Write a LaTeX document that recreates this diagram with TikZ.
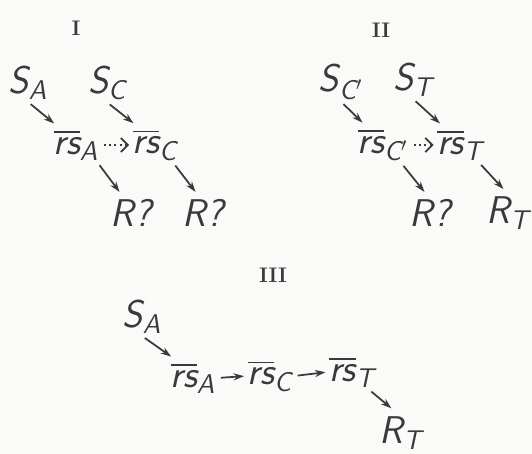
\documentclass[tikz,border=0pt]{standalone}
\usepackage{amsmath}
\usepackage{tikz}
\usetikzlibrary{arrows.meta}
\definecolor{inkgray}{HTML}{3A3A3A}
\definecolor{paper}{HTML}{FAFAF8}

\newcommand{\rsym}[1]{$\overline{\text{rs}}_{\text{#1}}$}
\newcommand{\ssym}[1]{$\text{S}_{\text{#1}}$}

\tikzset{
  sym/.style={font=\sffamily\slshape\fontsize{22}{26}\selectfont, text=inkgray, inner sep=1pt},
  numeral/.style={font=\bfseries\large, text=inkgray},
  link/.style={draw=inkgray, line width=1pt, -{Stealth[length=6pt, width=4pt]},
               shorten <=2pt, shorten >=1pt},
  guess/.style={link, dotted, -{Straight Barb[length=4pt]}}
}

\begin{document}
\begin{tikzpicture}[x=0.02cm, y=-0.02cm]
    \fill[paper] (0,0) rectangle (532,454);
    \useasboundingbox (0,0) rectangle (532,454);

    % I
    \node[numeral] (num1) at (76,28) {I};
    \node[sym] (sa1) at (28,83) {\ssym{A}};
    \node[sym] (sc1) at (107,83) {\ssym{C}};
    \node[sym] (rsa1) at (76,145) {\rsym{A}};
    \node[sym] (rsc1) at (155,145) {\rsym{C}};
    \node[sym] (ra1) at (131,213) {R?};
    \node[sym] (rc1) at (203,213) {R?};
    \draw[link] (sa1.south) -- ([shift={(4,-3)}]rsa1.north west);
    \draw[link] (sc1.south) -- ([shift={(4,-3)}]rsc1.north west);
    \draw[guess] (rsa1.east) -- (rsc1.west);
    \draw[link] ([shift={(-3,0)}]rsa1.south east) -- ([shift={(12,-4)}]ra1.north west);
    \draw[link] ([shift={(-6,0)}]rsc1.south east) -- ([shift={(16,-4)}]rc1.north west);

    % II
    \node[numeral] (num2) at (381,30) {II};
    \node[sym] (sc2) at (341,82) {\ssym{C$'$}};
    \node[sym] (st2) at (413,80) {\ssym{T}};
    \node[sym] (rsc2) at (383,145) {\rsym{C$'$}};
    \node[sym] (rst2) at (460,145) {\rsym{T}};
    \node[sym] (rc2) at (430,213) {R?};
    \node[sym] (rt2) at (508,213) {R$_{\text{T}}$};
    \draw[link] (sc2.south) -- ([shift={(8,-3)}]rsc2.north west);
    \draw[link] (st2.south) -- ([shift={(6,-3)}]rst2.north west);
    \draw[guess] (rsc2.east) -- (rst2.west);
    \draw[link] ([shift={(-9,0)}]rsc2.south east) -- ([shift={(18,-4)}]rc2.north west);
    \draw[link] ([shift={(-6,0)}]rst2.south east) -- ([shift={(20,-4)}]rt2.north west);

    % III
    \node[numeral] (num3) at (273,275) {III};
    \node[sym] (sa3) at (142,317) {\ssym{A}};
    \node[sym] (rsa3) at (193,378) {\rsym{A}};
    \node[sym] (rsc3) at (270,376) {\rsym{C}};
    \node[sym] (rst3) at (352,372) {\rsym{T}};
    \node[sym] (rt3) at (401,433) {R$_{\text{T}}$};
    \draw[link] (sa3.south) -- ([shift={(4,-3)}]rsa3.north west);
    \draw[link] (rsa3.east) -- (rsc3.west);
    \draw[link] (rsc3.east) -- (rst3.west);
    \draw[link] ([shift={(-8,0)}]rst3.south east) -- ([shift={(15,-5)}]rt3.north west);
\end{tikzpicture}
\end{document}
